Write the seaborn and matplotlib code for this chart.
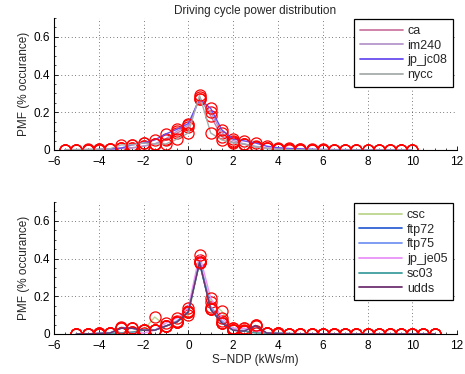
import numpy as np
import pandas as pd
import matplotlib
matplotlib.use("Agg")
import matplotlib.pyplot as plt
from matplotlib.lines import Line2D
from matplotlib.ticker import AutoMinorLocator
import seaborn as sns

sns.set_style("white")
plt.rcParams['font.family'] = ['Liberation Sans', 'DejaVu Sans']

# ---- data ----
x_top = [-5.5, -5, -4.5, -4, -3.5, -3, -2.5, -2, -1.5, -1, -0.5, 0, 0.5, 1, 1.5, 2,
         2.5, 3, 3.5, 4, 4.5, 5, 5.5, 6, 6.5, 7, 7.5, 8, 8.5, 9, 9.5, 10]
ca =      [0.001, 0.001, 0.002, 0.002, 0.005, 0.01, 0.012, 0.02, 0.032, 0.053, 0.09, 0.12, 0.28, 0.18, 0.07, 0.04,
           0.03, 0.016, 0.008, 0.005, 0.003, 0.002, 0.002, 0.001, 0.001, 0.001, 0.001, 0.001, 0.0, 0.0, 0.0, 0.0]
im240 =   [0.001, 0.001, 0.001, 0.002, 0.004, 0.008, 0.01, 0.021, 0.032, 0.06, 0.1, 0.13, 0.27, 0.2, 0.09, 0.05,
           0.032, 0.02, 0.01, 0.006, 0.004, 0.003, 0.002, 0.001, 0.001, 0.001, 0.001, 0.0, 0.0, 0.0, 0.0, 0.0]
jp_jc08 = [0.001, 0.002, 0.002, 0.003, 0.006, 0.01, 0.027, 0.037, 0.053, 0.085, 0.11, 0.14, 0.27, 0.22, 0.106, 0.058,
           0.048, 0.037, 0.02, 0.012, 0.008, 0.006, 0.004, 0.003, 0.002, 0.002, 0.001, 0.001, 0.001, 0.001, 0.0, 0.0]
nycc =    [0.002, 0.002, 0.003, 0.004, 0.006, 0.027, 0.027, 0.037, 0.032, 0.032, 0.058, 0.09, 0.29, 0.09, 0.053, 0.037,
           0.032, 0.016, 0.008, 0.004, 0.002, 0.001, 0.001, 0.001, 0.0, 0.0, 0.0, 0.0, 0.0, 0.0, 0.0, 0.0]

x_bot = [-5, -4.5, -4, -3.5, -3, -2.5, -2, -1.5, -1, -0.5, 0, 0.5, 1, 1.5, 2, 2.5,
         3, 3.5, 4, 4.5, 5, 5.5, 6, 6.5, 7, 7.5, 8, 8.5, 9, 9.5, 10, 10.5, 11]
csc =     [0.0, 0.001, 0.002, 0.004, 0.005, 0.01, 0.02, 0.09, 0.042, 0.064, 0.1, 0.38, 0.17, 0.12, 0.03, 0.03,
           0.015, 0.005, 0.003, 0.002, 0.001, 0.001, 0.001, 0.0, 0.0, 0.0, 0.0, 0.0, 0.0, 0.0, 0.0, 0.0, 0.0]
ftp72 =   [0.0, 0.001, 0.003, 0.005, 0.035, 0.03, 0.02, 0.02, 0.042, 0.064, 0.117, 0.38, 0.13, 0.058, 0.02, 0.015,
           0.045, 0.005, 0.003, 0.002, 0.001, 0.001, 0.001, 0.001, 0.0, 0.0, 0.0, 0.0, 0.0, 0.0, 0.0, 0.0, 0.0]
ftp75 =   [0.0, 0.001, 0.003, 0.005, 0.03, 0.03, 0.02, 0.02, 0.042, 0.07, 0.12, 0.39, 0.145, 0.07, 0.02, 0.02,
           0.04, 0.005, 0.003, 0.002, 0.001, 0.001, 0.001, 0.001, 0.0, 0.0, 0.0, 0.0, 0.0, 0.0, 0.0, 0.0, 0.0]
jp_je05 = [0.0, 0.001, 0.002, 0.003, 0.005, 0.01, 0.005, 0.02, 0.058, 0.085, 0.14, 0.42, 0.19, 0.085, 0.03, 0.03,
           0.015, 0.005, 0.002, 0.001, 0.001, 0.001, 0.0, 0.0, 0.0, 0.0, 0.0, 0.0, 0.0, 0.0, 0.0, 0.0, 0.0]
sc03 =    [0.0, 0.001, 0.002, 0.004, 0.005, 0.01, 0.02, 0.02, 0.042, 0.064, 0.117, 0.376, 0.13, 0.058, 0.02, 0.015,
           0.005, 0.004, 0.003, 0.002, 0.001, 0.001, 0.001, 0.0, 0.0, 0.0, 0.0, 0.0, 0.0, 0.0, 0.0, 0.0, 0.0]
udds =    [0.0, 0.001, 0.003, 0.005, 0.03, 0.03, 0.02, 0.02, 0.042, 0.064, 0.117, 0.38, 0.13, 0.058, 0.02, 0.015,
           0.045, 0.005, 0.003, 0.002, 0.001, 0.001, 0.001, 0.001, 0.0, 0.0, 0.0, 0.0, 0.0, 0.0, 0.0, 0.0, 0.0]

top_series = {"ca": ca, "im240": im240, "jp_jc08": jp_jc08, "nycc": nycc}
bot_series = {"csc": csc, "ftp72": ftp72, "ftp75": ftp75, "jp_je05": jp_je05, "sc03": sc03, "udds": udds}
top_colors = {"ca": "#cc7aa2", "im240": "#b496cc", "jp_jc08": "#6a4cf0", "nycc": "#a6acac"}
bot_colors = {"csc": "#bcd68e", "ftp72": "#2f62d4", "ftp75": "#7494f2", "jp_je05": "#e892f8",
              "sc03": "#3f9e9e", "udds": "#6e3270"}

title = "Driving cycle power distribution"
xlabel = "S\u2212NDP (kWs/m)"
ylabel = "PMF (% occurance)"

fig = plt.figure(figsize=(4.65, 3.74), dpi=100)
ax1 = fig.add_axes([0.116, 0.599, 0.867, 0.353])
ax2 = fig.add_axes([0.116, 0.107, 0.867, 0.353])


def draw(ax, xs, series, colors):
    rows = []
    for name, vals in series.items():
        for xv, yv in zip(xs, vals):
            rows.append((name, xv, yv))
    df = pd.DataFrame(rows, columns=["cycle", "x", "pmf"])
    sns.lineplot(data=df, x="x", y="pmf", hue="cycle", palette=colors, ax=ax,
                 legend=False, linewidth=1.0, marker="o", markersize=8,
                 markerfacecolor="none", markeredgecolor="red", markeredgewidth=0.9,
                 estimator=None, sort=False)
    ax.set_xlim(-6, 12)
    ax.set_ylim(0, 0.7)
    ax.set_xticks(range(-6, 13, 2))
    ax.set_yticks([0, 0.2, 0.4, 0.6])
    ax.set_yticklabels(["0", "0.2", "0.4", "0.6"])
    ax.xaxis.set_minor_locator(AutoMinorLocator(4))
    ax.yaxis.set_minor_locator(AutoMinorLocator(4))
    ax.tick_params(which="both", direction="in", labelsize=8.5, colors="black", left=True, bottom=True)
    ax.tick_params(axis="y", which="major", pad=3)
    ax.tick_params(axis="x", which="major", pad=4)
    ax.tick_params(which="major", length=3, width=0.6)
    ax.tick_params(which="minor", length=1.6, width=0.5)
    ax.grid(True, which="major", linestyle=(0, (1, 4)), color="black", linewidth=0.5)
    ax.set_axisbelow(True)
    for s in ["top", "right"]:
        ax.spines[s].set_visible(False)
    for s in ["left", "bottom"]:
        ax.spines[s].set_color("black")
        ax.spines[s].set_linewidth(0.8)
    ax.set_ylabel(ylabel, fontsize=8.5, labelpad=2)
    ax.set_xlabel("")
    handles = [Line2D([], [], color=colors[n], linewidth=1.3) for n in series]
    leg = ax.legend(handles, list(series.keys()), loc="upper right", bbox_to_anchor=(0.99, 0.99),
                    borderaxespad=0, fontsize=9, frameon=True, fancybox=False,
                    handlelength=3.4, labelspacing=0.22, borderpad=0.45, handletextpad=0.4)
    leg.get_frame().set_edgecolor("black")
    leg.get_frame().set_linewidth(0.9)
    leg.get_frame().set_alpha(1)


draw(ax1, x_top, top_series, top_colors)
draw(ax2, x_bot, bot_series, bot_colors)
ax1.set_title(title, fontsize=8.5, pad=3)
ax2.set_xlabel(xlabel, fontsize=8.5, labelpad=2)

fig.savefig("out.png", dpi=100)
